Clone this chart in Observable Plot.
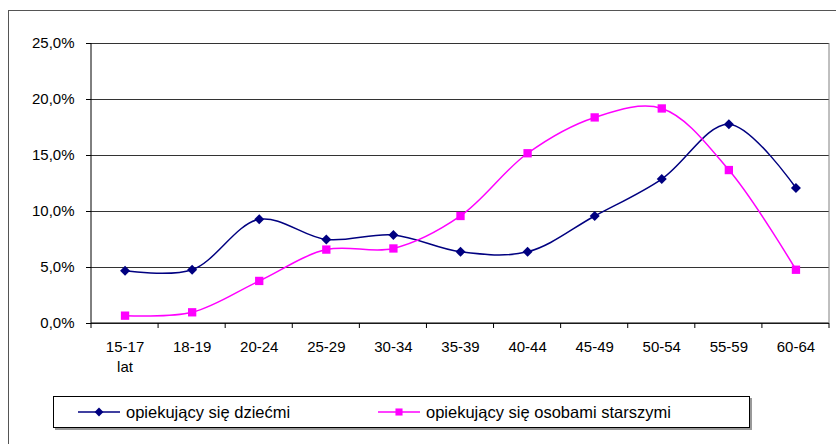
<!DOCTYPE html>
<html>
<head>
<meta charset="utf-8">
<script src="https://cdn.jsdelivr.net/npm/d3@7"></script>
<script src="https://cdn.jsdelivr.net/npm/@observablehq/plot@0.6"></script>
<style>
  html, body { margin: 0; padding: 0; background: #fff; }
  body { width: 836px; height: 444px; overflow: hidden; position: relative; font-family: "Liberation Sans", Arial, sans-serif; }
  #frame { position: absolute; left: 8px; top: 10px; width: 850px; height: 460px; border: 1px solid #555; box-sizing: border-box; }
  #chart { position: absolute; left: 0; top: 0; }
  #chart svg text { font-size: 15px; font-family: "Liberation Sans", Arial, sans-serif; }
  #legend { position: absolute; left: 53px; top: 396px; width: 697px; height: 32px; border: 1px solid #000; box-sizing: border-box; box-shadow: 2px 2px 0 #999; background: #fff; font-size: 16.5px; color: #000; }
  .item { position: absolute; top: 0; height: 30px; display: flex; align-items: center; }
  .item svg { margin-right: 4px; }
</style>
</head>
<body>
<div id="frame"></div>
<div id="chart"></div>
<div id="legend"></div>
<script>
const categories = ["15-17 lat", "18-19", "20-24", "25-29", "30-34", "35-39", "40-44", "45-49", "50-54", "55-59", "60-64"];
const tickLabels = ["15-17\nlat", "18-19", "20-24", "25-29", "30-34", "35-39", "40-44", "45-49", "50-54", "55-59", "60-64"];
const seriesNames = ["opiekujący się dziećmi", "opiekujący się osobami starszymi"];
const children = [4.7, 4.8, 9.3, 7.5, 7.9, 6.4, 6.4, 9.6, 12.9, 17.8, 12.1];
const elderly = [0.7, 1.0, 3.8, 6.6, 6.7, 9.6, 15.2, 18.4, 19.2, 13.7, 4.8];
const yTicks = [0, 5, 10, 15, 20, 25];
const colors = ["#000080", "#ff00ff"];
const symbols = ["diamond2", "square2"];

const rows = [];
categories.forEach((c, i) => {
  rows.push({cat: c, v: children[i], s: seriesNames[0]});
  rows.push({cat: c, v: elderly[i], s: seriesNames[1]});
});
const labelOf = Object.fromEntries(categories.map((c, i) => [c, tickLabels[i]]));

// boundary ticks + axis lines drawn from the x scale
function boundaries(index, scales, values, dimensions) {
  const {x, y} = scales;
  const step = x(categories[1]) - x(categories[0]);
  const g = d3.create("svg:g").attr("stroke", "#000").attr("fill", "none");
  const y0 = y(0);
  const left = x(categories[0]) - step / 2;
  const right = x(categories[categories.length - 1]) + step / 2;
  for (let i = 0; i <= categories.length; i++) {
    const bx = left + i * step;
    g.append("line").attr("x1", bx).attr("x2", bx).attr("y1", y0).attr("y2", y0 + 5);
  }
  g.append("line").attr("x1", left).attr("x2", right).attr("y1", y0).attr("y2", y0);
  g.append("line").attr("x1", left).attr("x2", left).attr("y1", y(yTicks[yTicks.length - 1])).attr("y2", y0);
  g.append("line").attr("x1", right).attr("x2", right).attr("y1", y(yTicks[yTicks.length - 1])).attr("y2", y0).attr("stroke", "#808080");
  return g.node();
}

const plot = Plot.plot({
  width: 836,
  height: 444,
  marginLeft: 91,
  marginRight: 7,
  marginTop: 43,
  marginBottom: 121,
  style: {fontFamily: "'Liberation Sans', Arial, sans-serif", fontSize: "15px", color: "#000", background: "transparent"},
  x: {type: "point", domain: categories, padding: 0.5, round: false, label: null},
  y: {domain: [0, 25], label: null},
  color: {domain: seriesNames, range: colors},
  symbol: {domain: seriesNames, range: symbols},
  marks: [
    Plot.gridY(yTicks, {stroke: "#333", strokeOpacity: 1}),
    boundaries,
    Plot.axisY(yTicks, {tickSize: 5, tickPadding: 12, fontSize: 15, tickFormat: d => d.toFixed(1).replace(".", ",") + "%", label: null}),
    Plot.axisX({tickSize: 0, tickPadding: 14, fontSize: 15, lineHeight: 1.33, tickFormat: d => labelOf[d], label: null}),
    Plot.line(rows, {x: "cat", y: "v", z: "s", stroke: "s", strokeWidth: 1.5, curve: "catmull-rom"}),
    Plot.dot(rows.filter(d => d.s === seriesNames[0]), {x: "cat", y: "v", symbol: "s", fill: "s", stroke: null, r: 4.5}),
    Plot.dot(rows.filter(d => d.s === seriesNames[1]), {x: "cat", y: "v", symbol: "s", fill: "s", stroke: null, r: 5.3})
  ]
});
document.getElementById("chart").appendChild(plot);

// legend
const legend = d3.select("#legend");
const positions = [24, 324];
seriesNames.forEach((name, i) => {
  const item = legend.append("div").attr("class", "item").style("left", positions[i] + "px");
  const svg = item.append("svg").attr("width", 44).attr("height", 12);
  svg.append("line").attr("x1", 0).attr("x2", 42).attr("y1", 6).attr("y2", 6).attr("stroke", colors[i]).attr("stroke-width", 1.5);
  svg.append("path").attr("transform", "translate(21,6)")
    .attr("d", d3.symbol(i === 0 ? d3.symbolDiamond2 : d3.symbolSquare2, i === 0 ? 50 : 64)())
    .attr("fill", colors[i]);
  item.append("span").text(name);
});
</script>
</body>
</html>
